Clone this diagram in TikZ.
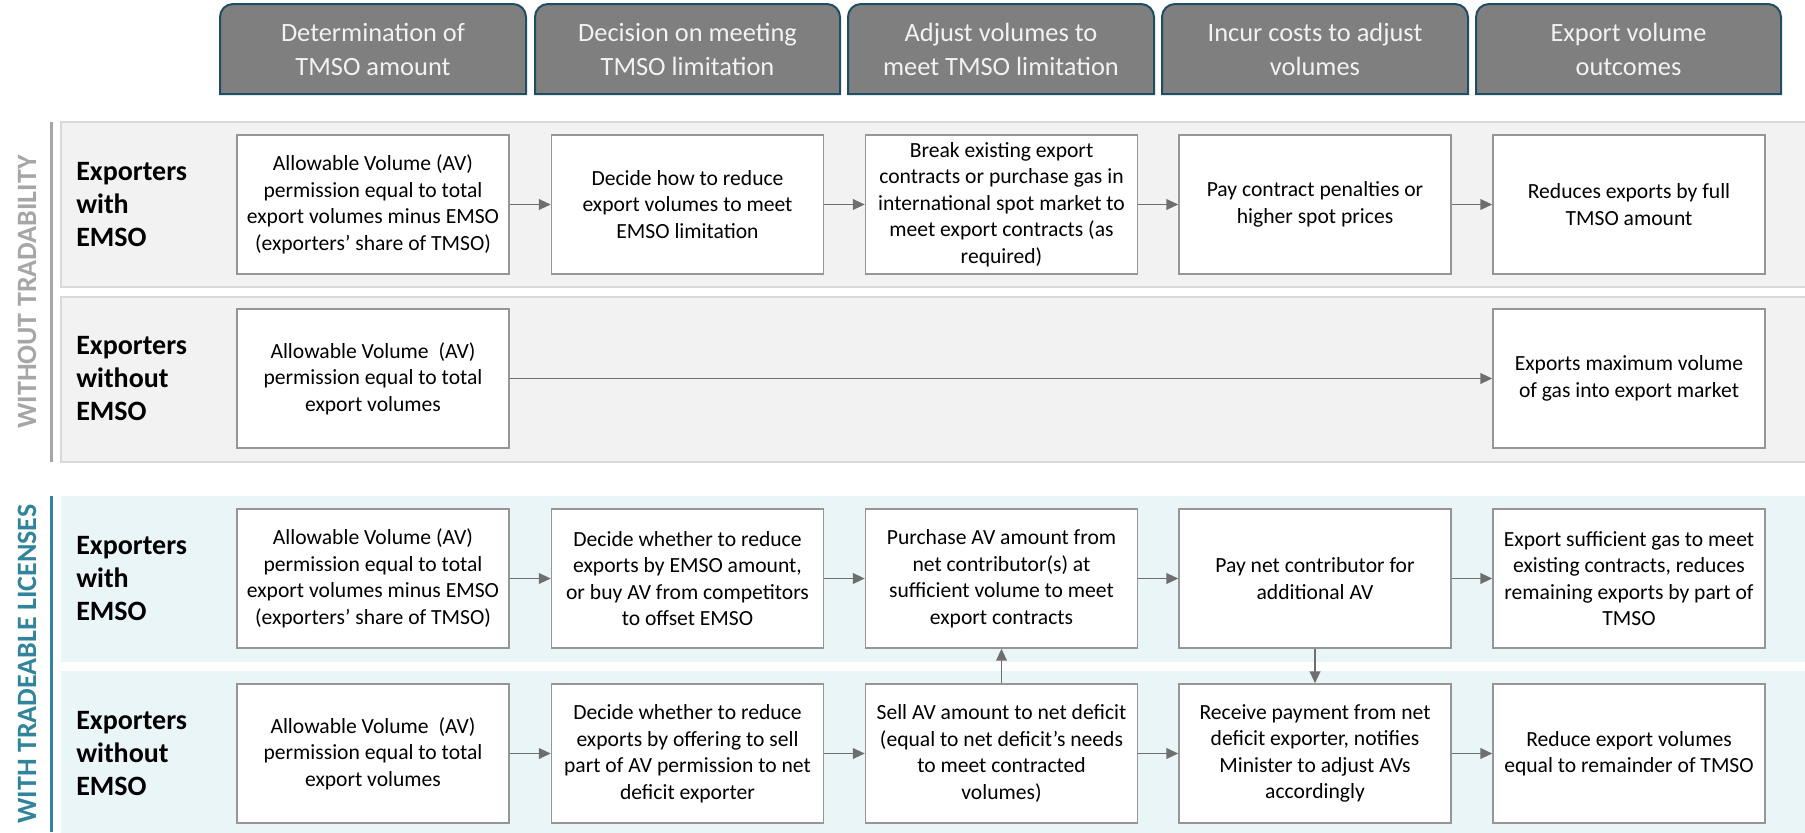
\documentclass[tikz,border=0pt]{standalone}
\usepackage{fontspec}
\setmainfont{Carlito}
\usetikzlibrary{arrows.meta}
\definecolor{hdrfill}{RGB}{127,127,127}
\definecolor{hdrborder}{RGB}{31,78,99}
\definecolor{hdrtext}{RGB}{242,242,242}
\definecolor{bandgray}{RGB}{242,242,242}
\definecolor{bandgrayline}{RGB}{217,217,217}
\definecolor{bandblue}{RGB}{234,245,248}
\definecolor{boxline}{RGB}{150,150,150}
\definecolor{arrowcol}{RGB}{110,110,110}
\definecolor{sidegray}{RGB}{166,166,166}
\definecolor{teal}{RGB}{49,132,155}
\tikzset{
  hdr/.style={fill=hdrfill, draw=hdrborder, line width=1.5pt},
  hdrtxt/.style={text=hdrtext, align=center, font=\fontsize{19.8pt}{25.5pt}\selectfont},
  stepbox/.style={draw=boxline, fill=white, line width=1.1pt, minimum width=204pt, minimum height=104.25pt, inner sep=0pt, align=center, font=\fontsize{16.2pt}{19.9pt}\selectfont},
  rowlab/.style={anchor=west, align=left, inner sep=0pt, font=\fontsize{21pt}{24.75pt}\selectfont\bfseries},
  sidelab/.style={rotate=90, inner sep=0pt, font=\fontsize{21pt}{24pt}\selectfont\bfseries},
  arr/.style={draw=arrowcol, line width=1.4pt, -{Triangle[length=9pt,width=8pt]}},
}
\begin{document}
\begin{tikzpicture}[x=0.75pt,y=-0.75pt]
\useasboundingbox (0,0) rectangle (1805,832);
% bands
\fill[bandgray, draw=bandgrayline, line width=0.8pt] (61,122) rectangle (1806,287);
\fill[bandgray, draw=bandgrayline, line width=0.8pt] (61,297) rectangle (1806,462);
\fill[bandblue] (61,496) rectangle (1806,662);
\fill[bandblue] (61,671) rectangle (1806,833);
% side lines
\draw[sidegray, line width=2.25pt] (51,122) -- (51,462);
\draw[teal, line width=2.25pt] (51,496) -- (51,832);
\node[sidelab, text=sidegray] (sideA) at (27,292) {WITHOUT TRADABILITY};
\node[sidelab, text=teal] (sideB) at (27,664) {WITH TRADEABLE LICENSES};
% headers
\foreach \xa/\xb in {220/526, 535/840, 848/1154, 1162/1468, 1476/1781}{
  \draw[hdr] (\xa,94) -- (\xa,17) arc[start angle=180,end angle=90,radius=9.75pt] -- ({\xb-13},4) arc[start angle=90,end angle=0,radius=9.75pt] -- (\xb,94) -- cycle;
}
\node[hdrtxt] (h1) at (373,49) {Determination of\\TMSO amount};
\node[hdrtxt] (h2) at (687.5,49) {Decision on meeting\\TMSO limitation};
\node[hdrtxt] (h3) at (1001,49) {Adjust volumes to\\meet TMSO limitation};
\node[hdrtxt] (h4) at (1315,49) {Incur costs to adjust\\volumes};
\node[hdrtxt] (h5) at (1628.5,49) {Export volume\\outcomes};
% row labels
\node[rowlab] (l1) at (76,205) {Exporters\\with\\EMSO};
\node[rowlab] (l2) at (76,379) {Exporters\\without\\EMSO};
\node[rowlab] (l3) at (76,579) {Exporters\\with\\EMSO};
\node[rowlab] (l4) at (76,754) {Exporters\\without\\EMSO};
% row 1
\node[stepbox] (a1) at (373,204.5) {Allowable Volume (AV)\\permission equal to total\\export volumes minus EMSO\\(exporters’ share of TMSO)};
\node[stepbox] (a2) at (687.5,204.5) {Decide how to reduce\\export volumes to meet\\EMSO limitation};
\node[stepbox] (a3) at (1001.5,204.5) {Break existing export\\contracts or purchase gas in\\international spot market to\\meet export contracts (as\\required)};
\node[stepbox] (a4) at (1315,204.5) {Pay contract penalties or\\higher spot prices};
\node[stepbox] (a5) at (1629,204.5) {Reduces exports by full\\TMSO amount};
% row 2
\node[stepbox] (b1) at (373,378.5) {Allowable Volume~\ (AV)\\permission equal to total\\export volumes};
\node[stepbox] (b5) at (1629,378.5) {Exports maximum volume\\of gas into export market};
% row 3
\node[stepbox] (c1) at (373,578.5) {Allowable Volume (AV)\\permission equal to total\\export volumes minus EMSO\\(exporters’ share of TMSO)};
\node[stepbox] (c2) at (687.5,578.5) {Decide whether to reduce\\exports by EMSO amount,\\or buy AV from competitors\\to offset EMSO};
\node[stepbox] (c3) at (1001.5,578.5) {Purchase AV amount from\\net contributor(s) at\\sufficient volume to meet\\export contracts};
\node[stepbox] (c4) at (1315,578.5) {Pay net contributor for\\additional AV};
\node[stepbox] (c5) at (1629,578.5) {Export sufficient gas to meet\\existing contracts, reduces\\remaining exports by part of\\TMSO};
% row 4
\node[stepbox] (d1) at (373,753.5) {Allowable Volume~ (AV)\\permission equal to total\\export volumes};
\node[stepbox] (d2) at (687.5,753.5) {Decide whether to reduce\\exports by offering to sell\\part of AV permission to net\\deficit exporter};
\node[stepbox] (d3) at (1001.5,753.5) {Sell AV amount to net deficit\\(equal to net deficit’s needs\\to meet contracted\\volumes)};
\node[stepbox] (d4) at (1315,753.5) {Receive payment from net\\deficit exporter, notifies\\Minister to adjust AVs\\accordingly};
\node[stepbox] (d5) at (1629,753.5) {Reduce export volumes\\equal to remainder of TMSO};
% arrows
\draw[arr] (a1) -- (a2);
\draw[arr] (a2) -- (a3);
\draw[arr] (a3) -- (a4);
\draw[arr] (a4) -- (a5);
\draw[arr] (b1) -- (b5);
\draw[arr] (c1) -- (c2);
\draw[arr] (c2) -- (c3);
\draw[arr] (c3) -- (c4);
\draw[arr] (c4) -- (c5);
\draw[arr] (d1) -- (d2);
\draw[arr] (d2) -- (d3);
\draw[arr] (d3) -- (d4);
\draw[arr] (d4) -- (d5);
\draw[arr] (d3.north) -- (c3.south);
\draw[arr] (c4.south) -- (d4.north);
\end{tikzpicture}
\end{document}
